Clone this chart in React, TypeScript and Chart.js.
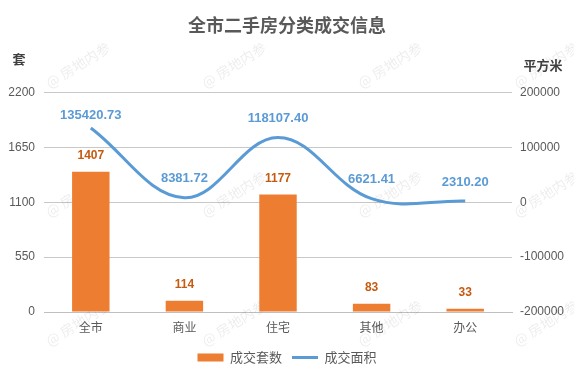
import React, { useEffect, useRef } from "react";
import { Chart, registerables } from "chart.js";

Chart.register(...registerables);

const categories = ["全市", "商业", "住宅", "其他", "办公"];
const unitCounts = [1407, 114, 1177, 83, 33];
const areaValues = [135420.73, 8381.72, 118107.4, 6621.41, 2310.2];
const leftTickValues = [0, 550, 1100, 1650, 2200];
const rightTickValues = [-200000, -100000, 0, 100000, 200000];
const seriesNames = ["成交套数", "成交面积"];
const titleText = "全市二手房分类成交信息";
const leftUnit = "套";
const rightUnit = "平方米";
const watermarkText = "@ 房地内参";

const FONT = "'Liberation Sans', 'Noto Sans CJK SC', sans-serif";
const CJK = "'Noto Sans CJK SC', 'Liberation Sans', sans-serif";
const BAR_COLOR = "#ed7d31";
const LINE_COLOR = "#5b9bd5";
const TEXT_COLOR = "#595959";

const overlayPlugin = {
  id: "overlay",
  beforeDatasetsDraw(chart: any) {
    const ctx = chart.ctx;
    ctx.save();
    ctx.fillStyle = "rgba(0,0,0,0.075)";
    ctx.font = "14px " + CJK;
    ctx.textAlign = "center";
    ctx.textBaseline = "middle";
    for (let r = 0; r < 3; r++) {
      for (let c = 0; c < 4; c++) {
        ctx.save();
        ctx.translate(78 + 156 * c, 65 + 129 * r);
        ctx.rotate((-32 * Math.PI) / 180);
        ctx.fillText(watermarkText, 0, 0);
        ctx.restore();
      }
    }
    ctx.restore();
  },
  afterDatasetsDraw(chart: any) {
    const ctx = chart.ctx;
    const area = chart.chartArea;
    ctx.save();
    ctx.textAlign = "center";
    ctx.textBaseline = "middle";
    ctx.font = "bold 12px " + FONT;
    ctx.fillStyle = "#c55a11";
    chart.getDatasetMeta(0).data.forEach((el: any, i: number) => {
      ctx.fillText(String(unitCounts[i]), el.x, el.y - 16);
    });
    ctx.font = "bold 13px " + FONT;
    ctx.fillStyle = LINE_COLOR;
    chart.getDatasetMeta(1).data.forEach((el: any, i: number) => {
      const y = Math.max(el.y - 19, area.top + 23);
      ctx.fillText(areaValues[i].toFixed(2), el.x, y);
    });
    ctx.font = "bold 13px " + CJK;
    ctx.fillStyle = "#404040";
    ctx.fillText(leftUnit, area.left - 25, area.top - 34);
    ctx.fillText(rightUnit, area.right + 31, area.top - 28);
    ctx.restore();
  },
};

export default function App() {
  const canvasRef = useRef<HTMLCanvasElement | null>(null);

  useEffect(() => {
    if (!canvasRef.current) return;
    const chart = new Chart(canvasRef.current, {
      type: "bar",
      data: {
        labels: categories,
        datasets: [
          {
            type: "bar",
            label: seriesNames[0],
            data: unitCounts,
            backgroundColor: BAR_COLOR,
            borderWidth: 0,
            yAxisID: "y",
            barPercentage: 0.4,
            categoryPercentage: 1,
            pointStyle: "rect",
          } as any,
          {
            type: "line",
            label: seriesNames[1],
            data: areaValues,
            borderColor: LINE_COLOR,
            backgroundColor: LINE_COLOR,
            borderWidth: 3,
            pointRadius: 0,
            tension: 0.38,
            yAxisID: "y1",
            pointStyle: "line",
          } as any,
        ],
      },
      options: {
        animation: false,
        responsive: false,
        layout: { padding: { top: 0, bottom: 17, left: 0, right: 0 } },
        plugins: {
          title: {
            display: true,
            text: titleText,
            color: TEXT_COLOR,
            font: { size: 18, weight: "bold", family: CJK },
            padding: { top: 14, bottom: 57 },
          },
          legend: {
            position: "bottom",
            labels: {
              usePointStyle: true,
              pointStyleWidth: 26,
              boxHeight: 8,
              color: TEXT_COLOR,
              font: { size: 13, family: CJK },
              padding: 10,
            },
          },
          tooltip: { enabled: false },
        },
        scales: {
          x: {
            offset: true,
            grid: { display: false, drawTicks: false },
            border: { color: "#bfbfbf" },
            ticks: { color: TEXT_COLOR, font: { size: 12, family: CJK }, padding: 8 },
            afterFit: (s: any) => {
              s.height = 29;
            },
          },
          y: {
            position: "left",
            min: leftTickValues[0],
            max: leftTickValues[leftTickValues.length - 1],
            afterBuildTicks: (s: any) => {
              s.ticks = leftTickValues.map((v) => ({ value: v }));
            },
            ticks: {
              color: TEXT_COLOR,
              font: { size: 12, family: FONT },
              padding: 9,
              callback: (v: any) => String(v),
            },
            grid: { color: "#c8c8c8", drawTicks: false },
            border: { display: false },
            afterFit: (s: any) => {
              s.width = 44;
            },
          },
          y1: {
            position: "right",
            min: rightTickValues[0],
            max: rightTickValues[rightTickValues.length - 1],
            afterBuildTicks: (s: any) => {
              s.ticks = rightTickValues.map((v) => ({ value: v }));
            },
            ticks: {
              color: TEXT_COLOR,
              font: { size: 12, family: FONT },
              padding: 8,
              callback: (v: any) => String(v),
            },
            grid: { drawOnChartArea: false, drawTicks: false },
            border: { display: false },
            afterFit: (s: any) => {
              s.width = 62;
            },
          },
        },
      } as any,
      plugins: [overlayPlugin],
    });
    return () => chart.destroy();
  }, []);

  return (
    <div style={{ position: "absolute", left: 0, top: 0, width: 574, height: 391, background: "#fff" }}>
      <canvas ref={canvasRef} width={574} height={391} />
    </div>
  );
}
